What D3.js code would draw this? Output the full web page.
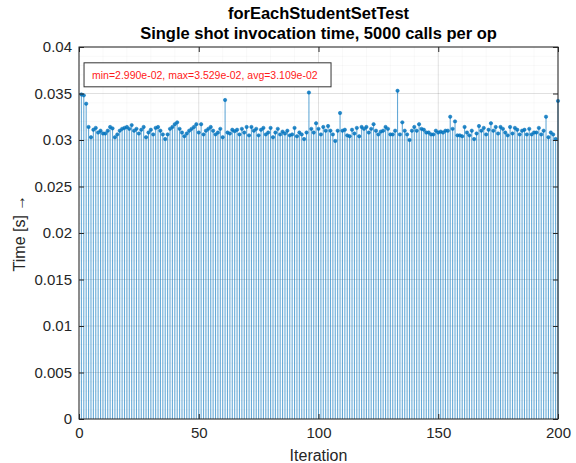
<!DOCTYPE html>
<html>
<head>
<meta charset="utf-8">
<script src="https://cdn.jsdelivr.net/npm/d3@7"></script>
<style>
  html, body { margin: 0; padding: 0; background: #fff; }
  svg { display: block; font-family: "Liberation Sans", Arial, Helvetica, sans-serif; }
</style>
</head>
<body>
<svg id="chart" width="576" height="463"></svg>
<script>
// Per-iteration single shot timings (seconds), iterations 1..200
const timesA = [
  0.03490, 0.03480, 0.03390, 0.03140, 0.03030, 0.03110, 0.03130, 0.03080, 0.03100, 0.03070,
  0.03070, 0.03100, 0.03140, 0.03125, 0.03030, 0.03060, 0.03100, 0.03120, 0.03130, 0.03140,
  0.03120, 0.03160, 0.03100, 0.03120, 0.03070, 0.03110, 0.03140, 0.03030, 0.03080, 0.03110,
  0.03060, 0.03130, 0.03140, 0.03100, 0.03060, 0.03010, 0.03060, 0.03120, 0.03140, 0.03170,
  0.03190, 0.03120, 0.03080, 0.03040, 0.03070, 0.03100, 0.03120, 0.03140, 0.03170, 0.03080
];
const timesB = [
  0.03170, 0.03060, 0.03100, 0.03120, 0.03140, 0.03100, 0.03060, 0.03080, 0.03120, 0.03030,
  0.03430, 0.03080, 0.03070, 0.03110, 0.03095, 0.03110, 0.03060, 0.03120, 0.03080, 0.03140,
  0.03050, 0.03140, 0.03100, 0.03120, 0.03050, 0.03110, 0.03130, 0.03060, 0.03080, 0.03130,
  0.03030, 0.03080, 0.03120, 0.03060, 0.03090, 0.03070, 0.03100, 0.03050, 0.03060, 0.03130,
  0.03040, 0.03080, 0.03060, 0.03010, 0.03080, 0.03510, 0.03120, 0.03080, 0.03180, 0.03120
];
const timesC = [
  0.03060, 0.03140, 0.03100, 0.03150, 0.03100, 0.03060, 0.02990, 0.03100, 0.03290, 0.03100,
  0.03110, 0.03050, 0.03040, 0.03110, 0.03070, 0.03130, 0.03040, 0.03140, 0.03120, 0.03140,
  0.03080, 0.03120, 0.03170, 0.03100, 0.03060, 0.03090, 0.03100, 0.03140, 0.03120, 0.03060,
  0.03060, 0.03100, 0.03529, 0.03060, 0.03190, 0.03100, 0.03060, 0.03000, 0.03100, 0.03140,
  0.03100, 0.03170, 0.03120, 0.03110, 0.03080, 0.03080, 0.03060, 0.03060, 0.03100, 0.03080
];
const timesD = [
  0.03090, 0.03080, 0.03100, 0.03100, 0.03250, 0.03120, 0.03200, 0.03050, 0.03050, 0.03040,
  0.03140, 0.03080, 0.03050, 0.03100, 0.03010, 0.03070, 0.03150, 0.03100, 0.03130, 0.03060,
  0.03110, 0.03180, 0.03100, 0.03140, 0.03070, 0.03140, 0.03120, 0.03080, 0.03050, 0.03140,
  0.03070, 0.03130, 0.03110, 0.03060, 0.03100, 0.03110, 0.03060, 0.03120, 0.03060, 0.03080,
  0.03080, 0.03130, 0.03060, 0.03100, 0.03250, 0.03030, 0.03080, 0.03060, 0.03010, 0.03420
];
const times = [...timesA, ...timesB, ...timesC, ...timesD];
const iterations = times.map((_, i) => i + 1);

const xTicks = [0, 50, 100, 150, 200];
const yTicks = [0, 0.005, 0.01, 0.015, 0.02, 0.025, 0.03, 0.035, 0.04];
const yTickLabels = ["0", "0.005", "0.01", "0.015", "0.02", "0.025", "0.03", "0.035", "0.04"];
const xMinor = d3.range(0, 201, 10);
const yMinor = d3.range(0, 41).map(k => k / 1000);

const titleLines = ["forEachStudentSetTest", "Single shot invocation time, 5000 calls per op"];
const statsText = "min=2.990e-02, max=3.529e-02, avg=3.109e-02";
const xLabel = "Iteration";
const yLabel = "Time [s] \u2192";

const W = 576, H = 463;
const m = { left: 79, right: W - 558, top: 47, bottom: H - 419 };
const pw = W - m.left - m.right, ph = H - m.top - m.bottom;

const svg = d3.select("#chart");
const g = svg.append("g").attr("transform", `translate(${m.left},${m.top})`);

const x = d3.scaleLinear().domain([0, 200]).range([0, pw]);
const y = d3.scaleLinear().domain([0, 0.04]).range([ph, 0]);

const axisColor = "#262626";
const blue = "#0072BD";

// minor grid
g.append("g").selectAll("line").data(xMinor).join("line")
  .attr("x1", d => x(d)).attr("x2", d => x(d)).attr("y1", 0).attr("y2", ph)
  .attr("stroke", "#000").attr("stroke-opacity", 0.05).attr("stroke-width", 0.6);
g.append("g").selectAll("line").data(yMinor).join("line")
  .attr("y1", d => y(d)).attr("y2", d => y(d)).attr("x1", 0).attr("x2", pw)
  .attr("stroke", "#000").attr("stroke-opacity", 0.05).attr("stroke-width", 0.6);
// major grid
g.append("g").selectAll("line").data(xTicks).join("line")
  .attr("x1", d => x(d)).attr("x2", d => x(d)).attr("y1", 0).attr("y2", ph)
  .attr("stroke", "#000").attr("stroke-opacity", 0.12).attr("stroke-width", 0.8);
g.append("g").selectAll("line").data(yTicks).join("line")
  .attr("y1", d => y(d)).attr("y2", d => y(d)).attr("x1", 0).attr("x2", pw)
  .attr("stroke", "#000").attr("stroke-opacity", 0.12).attr("stroke-width", 0.8);

// stems
g.append("g").selectAll("line").data(times).join("line")
  .attr("x1", (d, i) => x(iterations[i])).attr("x2", (d, i) => x(iterations[i]))
  .attr("y1", y(0)).attr("y2", d => y(d))
  .attr("stroke", blue).attr("stroke-width", 1.1).attr("stroke-opacity", 0.6);

// markers
g.append("g").selectAll("circle").data(times).join("circle")
  .attr("cx", (d, i) => x(iterations[i])).attr("cy", d => y(d))
  .attr("r", 1.7)
  .attr("fill", blue).attr("fill-opacity", 0.85)
  .attr("stroke", blue).attr("stroke-width", 0.5);

// axes with inward ticks
const fmtY = (d) => yTickLabels[yTicks.indexOf(d)];
const ax = (sel) => sel.call(s => s.select(".domain").remove())
  .call(s => s.selectAll(".tick line").attr("stroke", axisColor))
  .call(s => s.selectAll(".tick text").attr("fill", axisColor).style("font-size", "15px")
    .style("font-family", "'Liberation Sans', Arial, sans-serif"));

g.append("g").attr("transform", `translate(0,${ph})`)
  .call(d3.axisBottom(x).tickValues(xTicks).tickSize(-5).tickPadding(8).tickFormat(d3.format("d")))
  .call(ax);
g.append("g")
  .call(d3.axisTop(x).tickValues(xTicks).tickSize(-5).tickFormat(""))
  .call(ax);
g.append("g")
  .call(d3.axisLeft(y).tickValues(yTicks).tickSize(-5).tickPadding(7).tickFormat(fmtY))
  .call(ax);
g.append("g").attr("transform", `translate(${pw},0)`)
  .call(d3.axisRight(y).tickValues(yTicks).tickSize(-5).tickFormat(""))
  .call(ax);

// box
g.append("rect").attr("x", 0).attr("y", 0).attr("width", pw).attr("height", ph)
  .attr("fill", "none").attr("stroke", axisColor).attr("stroke-width", 1);

// stats annotation
const bx = x(2.1), by = y(0.0383);
g.append("rect").attr("x", bx).attr("y", by).attr("width", 247).attr("height", 24)
  .attr("fill", "#fff").attr("stroke", "#333").attr("stroke-width", 1);
g.append("text").attr("x", bx + 8).attr("y", by + 16)
  .attr("fill", "#ff1a1a").style("font-size", "10.5px").text(statsText);

// title
svg.append("g").selectAll("text").data(titleLines).join("text")
  .attr("x", m.left + pw / 2).attr("y", (d, i) => 19 + i * 20)
  .attr("text-anchor", "middle").attr("font-weight", "bold")
  .attr("fill", "#000").style("font-size", "16.5px").text(d => d);

// axis labels
svg.append("text").attr("x", m.left + pw / 2).attr("y", 461)
  .attr("text-anchor", "middle").attr("fill", axisColor).style("font-size", "16px").text(xLabel);
svg.append("text").attr("transform", `translate(25,${m.top + ph / 2}) rotate(-90)`)
  .attr("text-anchor", "middle").attr("fill", axisColor).style("font-size", "16px").text(yLabel);
</script>
</body>
</html>
